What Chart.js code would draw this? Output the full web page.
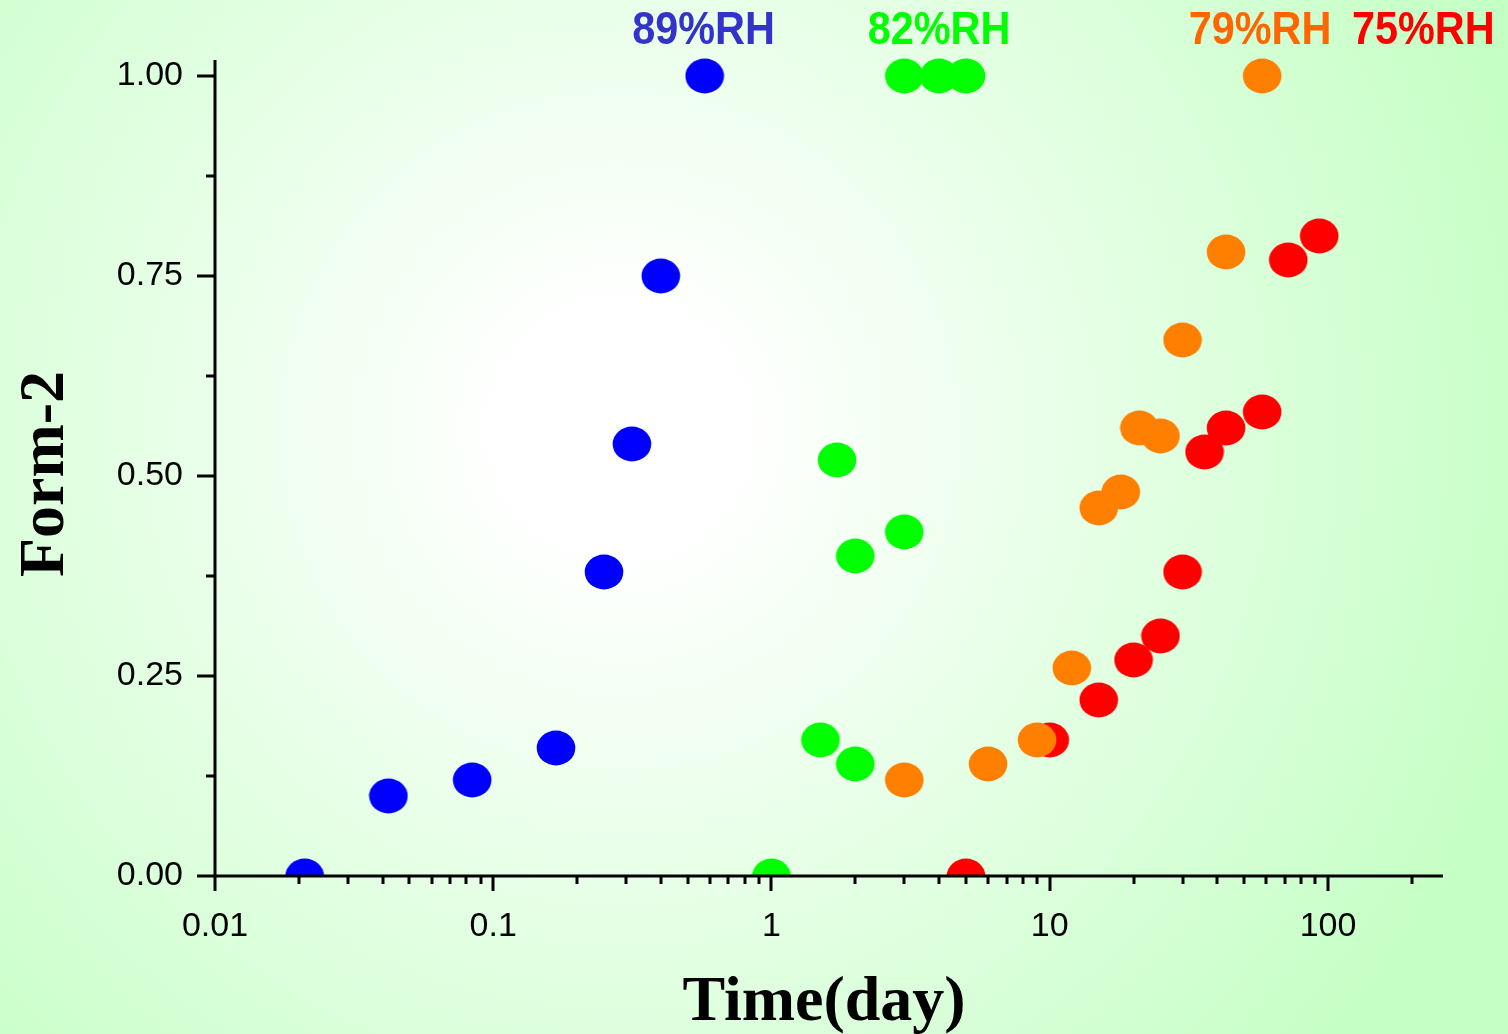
<!DOCTYPE html>
<html>
<head>
<meta charset="utf-8">
<script src="https://cdn.jsdelivr.net/npm/chart.js@4.4.1/dist/chart.umd.min.js"></script>
<style>
  html, body { margin: 0; padding: 0; background: #fff; overflow: hidden; }
  canvas { display: block; }
</style>
</head>
<body>
<canvas id="chart" width="1508" height="1034"></canvas>
<script>
// data (time in days, fraction of Form-2)
const rh89Time = [0.021, 0.042, 0.084, 0.168, 0.25, 0.315, 0.4, 0.575];
const rh89Form = [0, 0.10, 0.12, 0.16, 0.38, 0.54, 0.75, 1.00];

const rh82Time = [1, 1.5, 1.72, 2, 2, 3, 3, 4, 5];
const rh82Form = [0, 0.17, 0.52, 0.40, 0.14, 0.43, 1.00, 1.00, 1.00];

const rh79Time = [3, 6, 9, 12, 15, 18, 21, 25, 30, 43, 58];
const rh79Form = [0.12, 0.14, 0.17, 0.26, 0.46, 0.48, 0.56, 0.55, 0.67, 0.78, 1.00];

const rh75Time = [5, 10, 15, 20, 25, 30, 36, 43, 58, 72, 93];
const rh75Form = [0, 0.17, 0.22, 0.27, 0.30, 0.38, 0.53, 0.56, 0.58, 0.77, 0.80];

const seriesNames = ['89%RH', '82%RH', '79%RH', '75%RH'];
const seriesColors = ['#0000ff', '#00ff00', '#ff8000', '#ff0000'];
const labelColors = ['#3333cc', '#00ff00', '#ff6600', '#ff0000'];
const labelAt = [0.57, 4, 57, 220];   // x position (days) of each RH label

const xMajorTicks = [0.01, 0.1, 1, 10, 100];
const xMinorTicks = [];
for (const d of [0.01, 0.1, 1, 10, 100]) {
  for (let k = 2; k <= 9; k++) {
    const v = +(k * d).toPrecision(3);
    if (v <= 200) xMinorTicks.push(v);
  }
}
const yMajorTicks = [0, 0.25, 0.5, 0.75, 1];
const yMinorTicks = [0.125, 0.375, 0.625, 0.875];

function pts(xs, ys) {
  return xs.map((x, i) => ({ x: x, y: ys[i] }));
}

// ellipse marker, a bit wider than tall
function ellipse(color) {
  const c = document.createElement('canvas');
  c.width = 40; c.height = 36;
  const g = c.getContext('2d');
  g.fillStyle = color;
  g.beginPath();
  g.ellipse(20, 18, 19.3, 17.4, 0, 0, Math.PI * 2);
  g.fill();
  return c;
}

const allSeries = [
  pts(rh89Time, rh89Form),
  pts(rh82Time, rh82Form),
  pts(rh79Time, rh79Form),
  pts(rh75Time, rh75Form)
];

const datasets = allSeries.map((d, i) => ({
  label: seriesNames[i],
  data: d,
  pointStyle: ellipse(seriesColors[i]),
  pointRadius: 18,
  showLine: false,
  clip: { left: false, top: false, right: false, bottom: 0 }
}));

const backdrop = {
  id: 'backdrop',
  beforeDraw(chart) {
    const ctx = chart.ctx;
    const g = ctx.createRadialGradient(620, 430, 0, 620, 430, 960);
    g.addColorStop(0, '#ffffff');
    g.addColorStop(0.12, '#ffffff');
    g.addColorStop(1, '#c4ffc4');
    ctx.save();
    ctx.fillStyle = g;
    ctx.fillRect(0, 0, chart.width, chart.height);
    ctx.restore();
  }
};

const axesAndText = {
  id: 'axesAndText',
  afterDraw(chart) {
    const ctx = chart.ctx;
    const xs = chart.scales.x, ys = chart.scales.y;
    const a = chart.chartArea;
    ctx.save();
    ctx.strokeStyle = '#000';
    ctx.lineWidth = 3;
    ctx.lineCap = 'butt';
    ctx.beginPath();
    ctx.moveTo(a.left, a.top);
    ctx.lineTo(a.left, a.bottom);
    ctx.moveTo(a.left, a.bottom);
    ctx.lineTo(a.right, a.bottom);
    for (const v of xMajorTicks) {
      const p = Math.round(xs.getPixelForValue(v));
      ctx.moveTo(p, a.bottom);
      ctx.lineTo(p, a.bottom + 15);
    }
    for (const v of xMinorTicks) {
      const p = Math.round(xs.getPixelForValue(v));
      ctx.moveTo(p, a.bottom);
      ctx.lineTo(p, a.bottom + 8);
    }
    for (const v of yMajorTicks) {
      const p = Math.round(ys.getPixelForValue(v));
      ctx.moveTo(a.left, p);
      ctx.lineTo(a.left - 18, p);
    }
    for (const v of yMinorTicks) {
      const p = Math.round(ys.getPixelForValue(v));
      ctx.moveTo(a.left, p);
      ctx.lineTo(a.left - 9, p);
    }
    ctx.stroke();

    // axis titles
    ctx.fillStyle = '#000';
    ctx.font = 'bold 64px "Liberation Serif", "Times New Roman", serif';
    ctx.textAlign = 'center';
    ctx.textBaseline = 'alphabetic';
    ctx.fillText('Time(day)', 824, 1020);
    ctx.save();
    ctx.translate(63, 474);
    ctx.rotate(-Math.PI / 2);
    ctx.fillText('Form-2', 0, 0);
    ctx.restore();

    // RH labels over the top
    ctx.font = 'bold 46px "Liberation Sans", Arial, sans-serif';
    seriesNames.forEach((name, i) => {
      ctx.save();
      ctx.translate(xs.getPixelForValue(labelAt[i]), 44);
      ctx.scale(0.9, 1);
      ctx.fillStyle = labelColors[i];
      ctx.fillText(name, 0, 0);
      ctx.restore();
    });
    ctx.restore();
  }
};

const tickFont = { family: '"Liberation Sans", Arial, sans-serif', size: 34 };

new Chart(document.getElementById('chart'), {
  type: 'scatter',
  data: { datasets: datasets },
  options: {
    responsive: false,
    animation: false,
    devicePixelRatio: 1,
    layout: { padding: { left: 0, top: 60, right: 65, bottom: 0 } },
    plugins: {
      legend: { display: false },
      tooltip: { enabled: false }
    },
    scales: {
      x: {
        type: 'logarithmic',
        min: 0.01,
        max: 259,
        grid: { display: false, drawTicks: false },
        border: { display: false },
        afterBuildTicks(scale) {
          scale.ticks = xMajorTicks.map(v => ({ value: v }));
        },
        afterFit(scale) { scale.height = 158; },
        ticks: {
          autoSkip: false,
          maxRotation: 0,
          padding: 30,
          color: '#000',
          font: tickFont,
          callback: v => String(v)
        }
      },
      y: {
        min: 0,
        max: 1.02,
        grid: { display: false, drawTicks: false },
        border: { display: false },
        afterBuildTicks(scale) {
          scale.ticks = yMajorTicks.map(v => ({ value: v }));
        },
        afterFit(scale) { scale.width = 215; },
        ticks: {
          padding: 32,
          color: '#000',
          font: tickFont,
          callback: v => v.toFixed(2)
        }
      }
    }
  },
  plugins: [backdrop, axesAndText]
});
</script>
</body>
</html>
